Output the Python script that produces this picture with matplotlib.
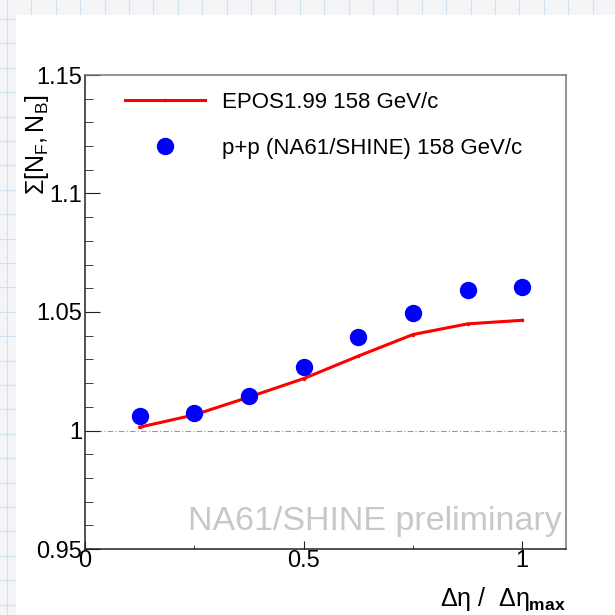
import matplotlib
matplotlib.use("Agg")
import matplotlib.pyplot as plt
from matplotlib.lines import Line2D
from matplotlib.patches import Rectangle
from matplotlib.ticker import MultipleLocator, FuncFormatter
import numpy as np

plt.rcParams['font.family'] = ['Liberation Sans', 'DejaVu Sans']
plt.rcParams['mathtext.fontset'] = 'custom'
plt.rcParams['mathtext.rm'] = 'Liberation Sans'
plt.rcParams['mathtext.it'] = 'Liberation Sans'
plt.rcParams['mathtext.bf'] = 'Liberation Sans:bold'

# data
deta = [0.125, 0.25, 0.375, 0.5, 0.625, 0.75, 0.875, 1.0]
sigma_na61 = [1.0060, 1.0072, 1.0145, 1.0269, 1.0395, 1.0497, 1.0591, 1.0606]
sigma_epos = [1.0014, 1.0066, 1.0141, 1.0219, 1.0314, 1.0405, 1.0450, 1.0465]

label_epos = "EPOS1.99 158 GeV/c"
label_na61 = "p+p (NA61/SHINE) 158 GeV/c"

fig = plt.figure(figsize=(6.15, 6.15), dpi=100)
fig.patch.set_facecolor('#f3f5f7')

# graph paper background
W = 615.0
step = 24.4
for px in np.arange(7, W, step):
    fig.add_artist(Line2D([px / W, px / W], [0, 1], color='#cfe2ee', lw=0.8,
                          transform=fig.transFigure, zorder=-2))
for py in np.arange(19, W, step):
    fig.add_artist(Line2D([0, 1], [1 - py / W, 1 - py / W], color='#cfe2ee', lw=0.8,
                          transform=fig.transFigure, zorder=-2))
fig.add_artist(Rectangle((16 / W, 0), 1, 1 - 15 / W, color='white',
                         transform=fig.transFigure, zorder=-1))

ax = fig.add_axes([85 / W, 66 / W, 481 / W, 474 / W])
ax.set_facecolor('none')
ax.set_xlim(0, 1.1)
ax.set_ylim(0.95, 1.15)

ax.axhline(1.0, color='#999999', lw=0.8, ls=(0, (5, 2, 1, 2)), zorder=1)

ax.plot(deta, sigma_epos, color='#ff0000', lw=2.2, marker='.', markersize=3,
        label=label_epos, zorder=2)
ax.plot(deta, sigma_na61, ls='none', marker='o', color='#0000ff',
        markersize=11.5, label=label_na61, zorder=3)

ax.text(0.992, 0.04, "NA61/SHINE preliminary", transform=ax.transAxes,
        ha='right', va='baseline', color='#c8c8c8', fontsize=24.5)

ax.xaxis.set_major_locator(MultipleLocator(0.5))
ax.xaxis.set_minor_locator(MultipleLocator(0.25))
ax.yaxis.set_major_locator(MultipleLocator(0.05))
ax.yaxis.set_minor_locator(MultipleLocator(0.01))
fmt = FuncFormatter(lambda v, p: '%g' % round(v, 4))
ax.xaxis.set_major_formatter(fmt)
ax.yaxis.set_major_formatter(fmt)

ax.tick_params(axis='both', which='both', direction='in', top=False, right=False,
               labelsize=17, color='#222222')
ax.tick_params(axis='y', which='major', length=10.8, pad=2)
ax.tick_params(axis='y', which='minor', length=5.8)
ax.tick_params(axis='x', which='major', length=5.8, pad=1)
ax.tick_params(axis='x', which='minor', length=3.0)

for s in ['left', 'bottom']:
    ax.spines[s].set_color('#222222')
    ax.spines[s].set_linewidth(1.1)
for s in ['top', 'right']:
    ax.spines[s].set_color('#777777')
    ax.spines[s].set_linewidth(1.1)

ax.set_xlabel(r"$\Delta\eta$ /  $\Delta\eta_{\mathbf{max}}$", fontsize=18,
              loc='right')
ax.xaxis.set_label_coords(1.0, -0.075)
ax.set_ylabel(r"$\Sigma[N_{F}, N_{B}]$", fontsize=18, loc='top')
ax.yaxis.set_label_coords(-0.07, 0.958)

ax.legend(loc='upper left', bbox_to_anchor=(0.083, 0.965), frameon=False,
          fontsize=16, handlelength=3.6, handletextpad=0.75, labelspacing=1.15,
          borderpad=0, borderaxespad=0)

fig.savefig("out.png", dpi=100, facecolor=fig.get_facecolor())
